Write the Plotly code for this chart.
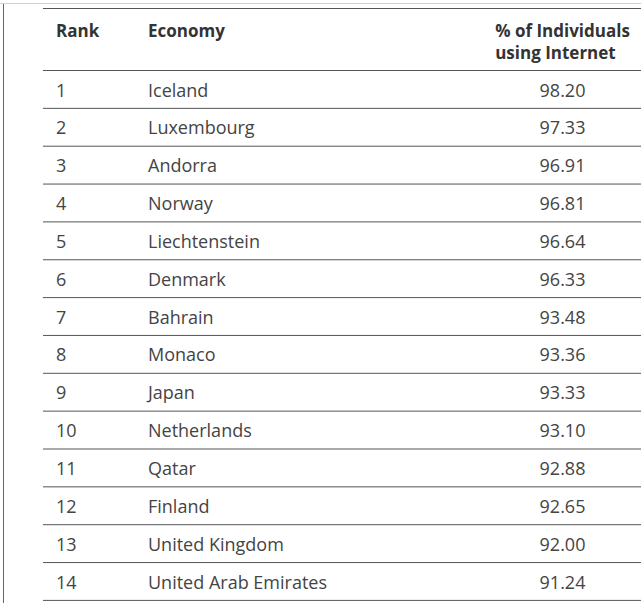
import plotly.graph_objects as go

ranks = [str(i) for i in range(1, 15)]
economies = ["Iceland", "Luxembourg", "Andorra", "Norway", "Liechtenstein", "Denmark",
             "Bahrain", "Monaco", "Japan", "Netherlands", "Qatar", "Finland",
             "United Kingdom", "United Arab Emirates"]
pct = [98.20, 97.33, 96.91, 96.81, 96.64, 96.33, 93.48, 93.36, 93.33, 93.10,
       92.88, 92.65, 92.00, 91.24]
headers = ["<b>Rank</b>", "<b>Economy</b>", "<b>% of Individuals<br>using Internet</b>"]

W, H = 641, 603
top_px = 8
header_h = 62
row_h = 37.85
x0_px = 48
head_shift = 3   # push header text down
row_shift = 5    # push row text down
FONT = "Open Sans"

fig = go.Figure(go.Table(
    columnwidth=[92, 344, 157],
    header=dict(values=headers, height=header_h + (row_shift - head_shift),
                align=["left", "left", "center"],
                fill_color="white", line=dict(color="white", width=0),
                font=dict(family=FONT, size=17, color="#333333")),
    cells=dict(values=[ranks, economies, [f"{v:.2f}" for v in pct]],
               height=row_h, align=["left", "left", "center"],
               fill_color="white", line=dict(color="white", width=0),
               font=dict(family=FONT, size=18, color="#444444")),
    domain=dict(x=[x0_px / W, 1], y=[0, 1 - (top_px + head_shift) / H]),
))

shapes = []
ys = [top_px, top_px + header_h] + [top_px + header_h + row_h * (k + 1) for k in range(len(ranks))]
for y in ys:
    yp = 1 - (y + 0.5) / H
    shapes.append(dict(type="line", xref="paper", yref="paper", x0=43 / W, x1=1,
                       y0=yp, y1=yp, line=dict(color="#555555", width=1)))
# outer frame lines of the page
shapes.append(dict(type="line", xref="paper", yref="paper", x0=0, x1=1,
                   y0=1 - 3.5 / H, y1=1 - 3.5 / H, line=dict(color="#d0d0d0", width=1)))
shapes.append(dict(type="line", xref="paper", yref="paper", x0=3.5 / W, x1=3.5 / W,
                   y0=0, y1=1 - 4 / H, line=dict(color="#666666", width=1)))

fig.update_layout(width=W, height=H, margin=dict(l=0, r=0, t=0, b=0),
                  paper_bgcolor="white", shapes=shapes)
fig.write_html("out.html", config={"displayModeBar": False},
               post_script="document.body.style.margin='0';")
